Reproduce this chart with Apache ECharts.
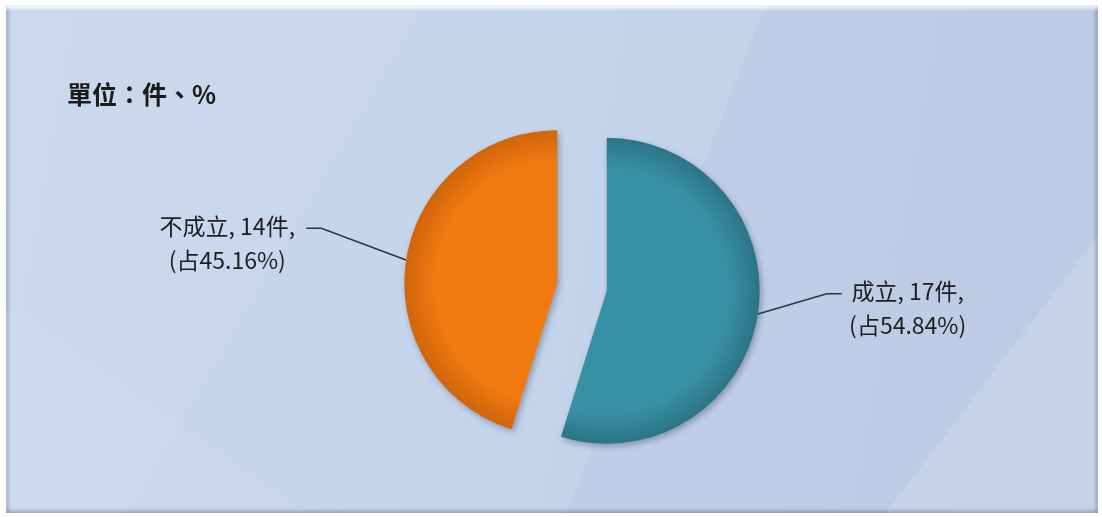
<!DOCTYPE html>
<html>
<head>
<meta charset="utf-8">
<script src="https://cdn.jsdelivr.net/npm/echarts@6/dist/echarts.min.js"></script>
<style>
html, body { margin: 0; padding: 0; background: #ffffff; }
#panel {
  position: absolute; left: 6px; top: 5px; width: 1092px; height: 508px;
  background: linear-gradient(100deg, #c7d6ec 0%, #c3d3ea 50%, #bfcfe7 100%);
  box-shadow: inset 0 5px 3px -1px rgba(255,255,255,0.75),
              inset 4px 0 3px -1px rgba(80,100,135,0.35),
              inset -4px 0 3px -1px rgba(80,100,135,0.35),
              inset 0 -4px 3px -1px rgba(80,100,135,0.35);
}
#main { position: absolute; left: 0; top: 0; width: 1092px; height: 508px; }
</style>
</head>
<body>
<div id="panel"><div id="main"></div></div>
<script>
// 資料
var names = ['成立', '不成立'];
var counts = [17, 14];
var unitText = '單位：件、%';

var baseColors = ['#3890a5', '#f07910'];
var edgeColors = ['#2c7487', '#cf650a'];

// 標籤設定: 與邊界距離(含扇形分離位移), 第一段引線長, 文字框寬
var labelEdge = [152, 170];
var lineLen = [18, 58];
var labelWidth = [126, 152];

// 計算扇形外框, 讓放射漸層的中心落在圓心上
function sectorGradient(startDeg, endDeg, base, edge) {
  var pts = [[0, 0]];
  function pt(a) { var r = a * Math.PI / 180; return [Math.sin(r), -Math.cos(r)]; }
  pts.push(pt(startDeg), pt(endDeg));
  [0, 90, 180, 270, 360].forEach(function (a) { if (a > startDeg && a < endDeg) pts.push(pt(a)); });
  var xs = pts.map(function (p) { return p[0]; }), ys = pts.map(function (p) { return p[1]; });
  var x0 = Math.min.apply(null, xs), x1 = Math.max.apply(null, xs);
  var y0 = Math.min.apply(null, ys), y1 = Math.max.apply(null, ys);
  var w = x1 - x0, h = y1 - y0;
  return new echarts.graphic.RadialGradient(-x0 / w, -y0 / h, 1 / Math.min(w, h), [
    { offset: 0, color: base },
    { offset: 0.8, color: base },
    { offset: 1, color: edge }
  ]);
}

var total = counts.reduce(function (a, b) { return a + b; }, 0);
var acc = 0;
var pieData = names.map(function (n, i) {
  var s = acc / total * 360;
  acc += counts[i];
  var e = acc / total * 360;
  return {
    name: n,
    value: counts[i],
    selected: true,
    itemStyle: { color: sectorGradient(s, e, baseColors[i], edgeColors[i]) },
    label: {
      edgeDistance: labelEdge[i],
      rich: { t: { width: labelWidth[i], align: 'center' } }
    },
    labelLine: { length: lineLen[i] }
  };
});

var myChart = echarts.init(document.getElementById('main'));

var option = {
  backgroundColor: 'transparent',
  graphic: [
    { type: 'polygon', silent: true, shape: { points: [[0, 0], [420, 0], [120, 508], [0, 508]] }, style: { fill: 'rgba(255,255,255,0.07)' } },
    { type: 'polygon', silent: true, shape: { points: [[420, 0], [760, 0], [560, 508], [120, 508]] }, style: { fill: 'rgba(255,255,255,0.03)' } },
    { type: 'polygon', silent: true, shape: { points: [[760, 0], [1092, 0], [1092, 230], [880, 508], [560, 508]] }, style: { fill: 'rgba(90,120,170,0.04)' } },
    { type: 'polygon', silent: true, shape: { points: [[1092, 230], [1092, 508], [880, 508]] }, style: { fill: 'rgba(255,255,255,0.08)' } },
    { type: 'polygon', silent: true, shape: { points: [[0, 300], [300, 508], [0, 508]] }, style: { fill: 'rgba(255,255,255,0.06)' } }
  ],
  title: {
    text: unitText,
    left: 56,
    top: 72,
    textStyle: {
      fontFamily: 'Noto Sans CJK TC',
      fontSize: 25,
      fontWeight: 'bold',
      color: '#1a1a1a'
    }
  },
  series: [{
    type: 'pie',
    radius: 153,
    center: [576, 282],
    startAngle: 90,
    clockwise: true,
    selectedMode: 'multiple',
    selectedOffset: 25,
    animation: false,
    emphasis: { disabled: true },
    itemStyle: {
      shadowBlur: 6,
      shadowOffsetX: 2,
      shadowOffsetY: 3,
      shadowColor: 'rgba(30,40,60,0.35)'
    },
    label: {
      show: true,
      position: 'outside',
      alignTo: 'edge',
      formatter: '{t|{b}, {c}件,}\n{t|(占{d}%)}',
      fontFamily: 'Noto Sans CJK TC',
      fontSize: 23,
      lineHeight: 34,
      color: '#1e1e1e',
      distanceToLabelLine: 3
    },
    labelLine: {
      show: true,
      length2: 10,
      lineStyle: { color: '#2b3440', width: 1.5 }
    },
    // 標籤略往上移, 引線接到第一行
    labelLayout: function (params) {
      var pts = params.labelLinePoints;
      if (!pts) return { dy: -8 };
      var p0 = pts[0], p2 = pts[pts.length - 1];
      var dir = p2[0] < p0[0] ? 1 : -1;
      var y = p2[1] - 23;
      return {
        dy: -8,
        labelLinePoints: [p0, [p2[0] + dir * 15, y], [p2[0], y]]
      };
    },
    data: pieData
  }]
};

myChart.setOption(option);
</script>
</body>
</html>
